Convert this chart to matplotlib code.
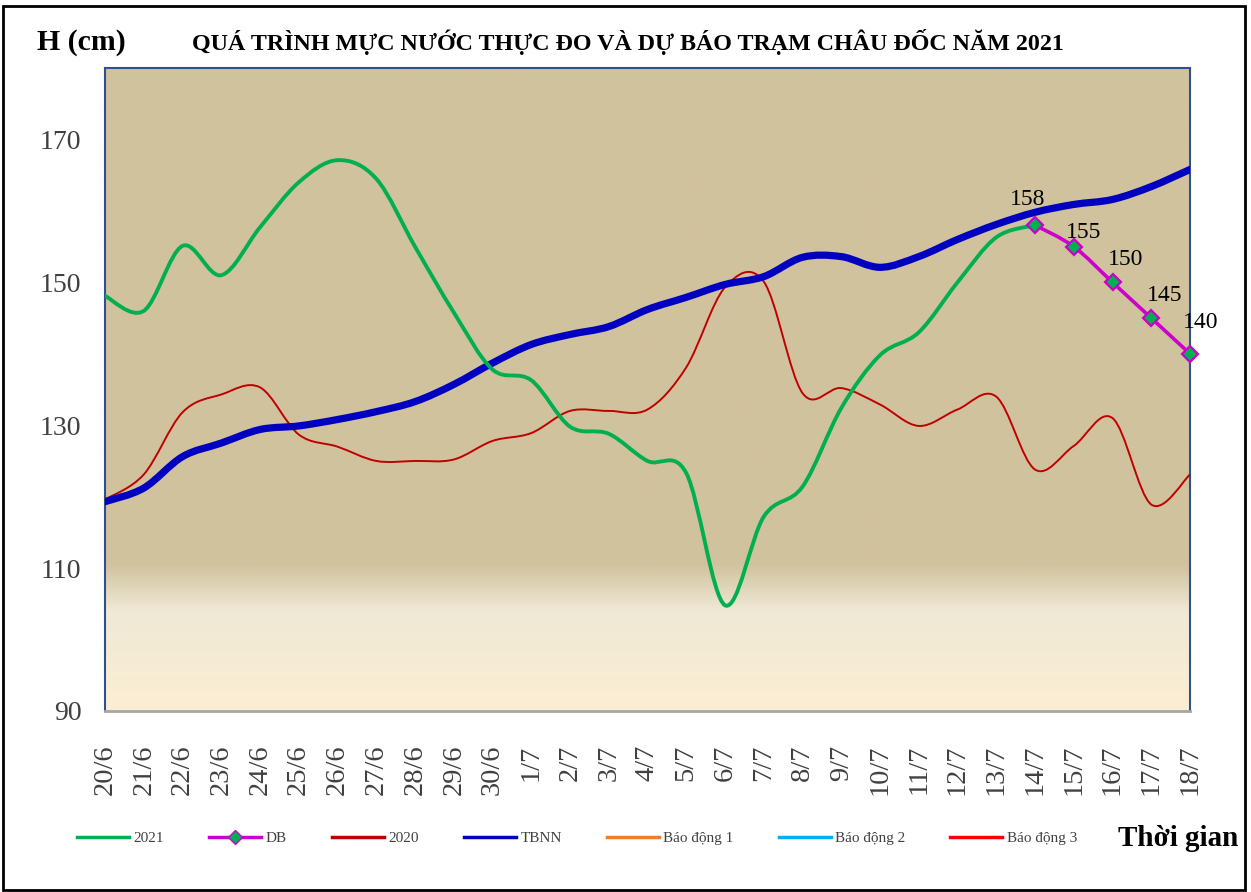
import numpy as np
import matplotlib
matplotlib.use("Agg")
import matplotlib.pyplot as plt
from matplotlib.path import Path
from matplotlib.patches import PathPatch, Rectangle
from matplotlib.lines import Line2D
from matplotlib.colors import to_rgb

# data (cm), daily from 20/6 to 18/7
days = ['20/6', '21/6', '22/6', '23/6', '24/6', '25/6', '26/6', '27/6', '28/6',
        '29/6', '30/6', '1/7', '2/7', '3/7', '4/7', '5/7', '6/7', '7/7', '8/7',
        '9/7', '10/7', '11/7', '12/7', '13/7', '14/7', '15/7', '16/7', '17/7', '18/7']

h2021 = [148.1, 146.0, 155.1, 151.0, 157.7, 164.0, 167.1, 164.5, 155.0, 145.8,
         137.8, 136.3, 129.8, 128.8, 125.0, 123.3, 104.8, 117.2, 121.4, 132.4,
         139.8, 143.0, 150.0, 156.3, 158.0]
db_days = ['14/7', '15/7', '16/7', '17/7', '18/7']
db = [158, 155, 150, 145, 140]
h2020 = [119.6, 123.1, 131.8, 134.3, 135.3, 128.7, 127.0, 125.0, 125.0, 125.2,
         127.8, 128.9, 132.0, 132.0, 132.2, 138.1, 149.3, 150.1, 134.5, 135.2,
         132.9, 129.9, 132.2, 134.0, 123.8, 127.1, 131.0, 118.9, 123.1]
tbnn = [119.3, 121.2, 125.6, 127.5, 129.4, 129.9, 130.8, 131.9, 133.3, 135.7,
        138.7, 141.3, 142.7, 143.8, 146.2, 147.9, 149.7, 150.8, 153.5, 153.6,
        152.1, 153.6, 156.0, 158.1, 159.8, 160.9, 161.6, 163.4, 165.8]
# alarm levels at Chau Doc (cm), above the plotted range
bd1, bd2, bd3 = 350, 400, 450

GREEN = '#00B050'
MAGENTA = '#CC00CC'
RED20 = '#C00000'
BLUE = '#0000C0'
serif = ['Liberation Serif', 'DejaVu Serif']
plt.rcParams['font.family'] = serif


def smooth_path(x, y):
    # Catmull-Rom through the points, drawn as cubic Bezier segments
    x = np.asarray(x, float)
    y = np.asarray(y, float)
    px = np.concatenate([[x[0]], x, [x[-1]]])
    py = np.concatenate([[y[0]], y, [y[-1]]])
    verts = [(x[0], y[0])]
    codes = [Path.MOVETO]
    for i in range(1, len(x)):
        a, b = i, i + 1  # indices in padded arrays of segment start/end
        c1 = (px[a] + (px[a + 1] - px[a - 1]) / 6, py[a] + (py[a + 1] - py[a - 1]) / 6)
        c2 = (px[b] - (px[b + 1] - px[b - 1]) / 6, py[b] - (py[b + 1] - py[b - 1]) / 6)
        verts += [c1, c2, (px[b], py[b])]
        codes += [Path.CURVE4] * 3
    return Path(verts, codes)


def add_smooth(ax, x, y, color, lw, z):
    ax.add_patch(PathPatch(smooth_path(x, y), fill=False, edgecolor=color,
                           linewidth=lw, zorder=z, capstyle='round',
                           joinstyle='round'))


fig = plt.figure(figsize=(12.51, 8.92), dpi=100)
ax = fig.add_axes([105 / 1251, 181 / 892, 1085 / 1251, 643 / 892])

# background gradient (tan -> cream near the bottom)
stops = [0.0, 0.155, 0.228, 1.0]
cols = [to_rgb('#FCEED3'), to_rgb('#EFE9D6'), to_rgb('#D1C29E'), to_rgb('#D1C29E')]
fr = np.linspace(0, 1, 600)
grad = np.stack([np.interp(fr, stops, [c[k] for c in cols]) for k in range(3)], axis=-1)
ax.imshow(grad[:, None, :], extent=[0, 1, 0, 1], transform=ax.transAxes,
          aspect='auto', origin='lower', zorder=0)

xi = np.arange(len(days))
x21 = xi[:len(h2021)]
xdb = np.array([days.index(d) for d in db_days])

add_smooth(ax, xi, h2020, RED20, 1.4, 3)
add_smooth(ax, xi, tbnn, BLUE, 5.2, 4)
add_smooth(ax, x21, h2021, GREEN, 2.8, 5)
add_smooth(ax, xdb, db, MAGENTA, 2.6, 6)
ax.plot(xdb, db, linestyle='none', marker='D', markersize=8, markerfacecolor=GREEN,
        markeredgecolor=MAGENTA, markeredgewidth=1.6, zorder=7, clip_on=False)
ax.axhline(bd1, color='#ED7D31', lw=2)
ax.axhline(bd2, color='#00B0F0', lw=2)
ax.axhline(bd3, color='#FF0000', lw=2)

offs = [(-7, 15), (10, 4), (13, 12), (13, 12), (11, 21)]
for x, v, o in zip(xdb, db, offs):
    ax.annotate(str(v), (x, v), xytext=o, textcoords='offset pixels',
                ha='center', va='bottom', fontsize=17, color='black', zorder=8)

ax.set_xlim(0, len(days) - 1)
ax.set_ylim(90, 180)
ax.set_yticks([90, 110, 130, 150, 170])
ax.set_xticks(xi)
ax.set_xticklabels(days, rotation=90)
ax.tick_params(axis='y', length=0, pad=17, labelsize=20, labelcolor='#404040')
ax.tick_params(axis='x', length=0, pad=24, labelsize=20.5, labelcolor='#404040')
for s in ['left', 'right', 'top']:
    ax.spines[s].set_color('#2F4F8F')
    ax.spines[s].set_linewidth(1.5)
ax.spines['bottom'].set_color('#A6A6A6')
ax.spines['bottom'].set_linewidth(2)

fig.text(37 / 1251, 1 - 42 / 892, 'H (cm)', fontsize=21.5, fontweight='bold',
         ha='left', va='center')
fig.text(628 / 1251, 1 - 42 / 892,
         'QUÁ TRÌNH MỰC NƯỚC THỰC ĐO VÀ DỰ BÁO TRẠM CHÂU ĐỐC NĂM 2021',
         fontsize=17.3, fontweight='bold', ha='center', va='center')
fig.text(1178 / 1251, 1 - 838 / 892, 'Thời gian', fontsize=21, fontweight='bold',
         ha='center', va='center')

handles = [Line2D([], [], color=GREEN, lw=2.5),
           Line2D([], [], color=MAGENTA, lw=2.5, marker='D', markersize=7,
                  markerfacecolor=GREEN, markeredgecolor=MAGENTA),
           Line2D([], [], color=RED20, lw=2.5),
           Line2D([], [], color=BLUE, lw=2.5),
           Line2D([], [], color='#ED7D31', lw=2.5),
           Line2D([], [], color='#00B0F0', lw=2.5),
           Line2D([], [], color='#FF0000', lw=2.5)]
labels = ['2021', 'DB', '2020', 'TBNN', 'Báo động 1', 'Báo động 2', 'Báo động 3']
fig.legend(handles, labels, loc='center', bbox_to_anchor=(577 / 1251, 1 - 838 / 892),
           ncol=7, frameon=False, fontsize=11, handlelength=3.4, handletextpad=0.3,
           columnspacing=2.95, labelcolor='#404040')

fig.add_artist(Rectangle((3 / 1251, 2 / 892), 1242 / 1251, 884 / 892,
                         transform=fig.transFigure, fill=False, lw=2, ec='black'))

fig.savefig('out.png', dpi=100)
